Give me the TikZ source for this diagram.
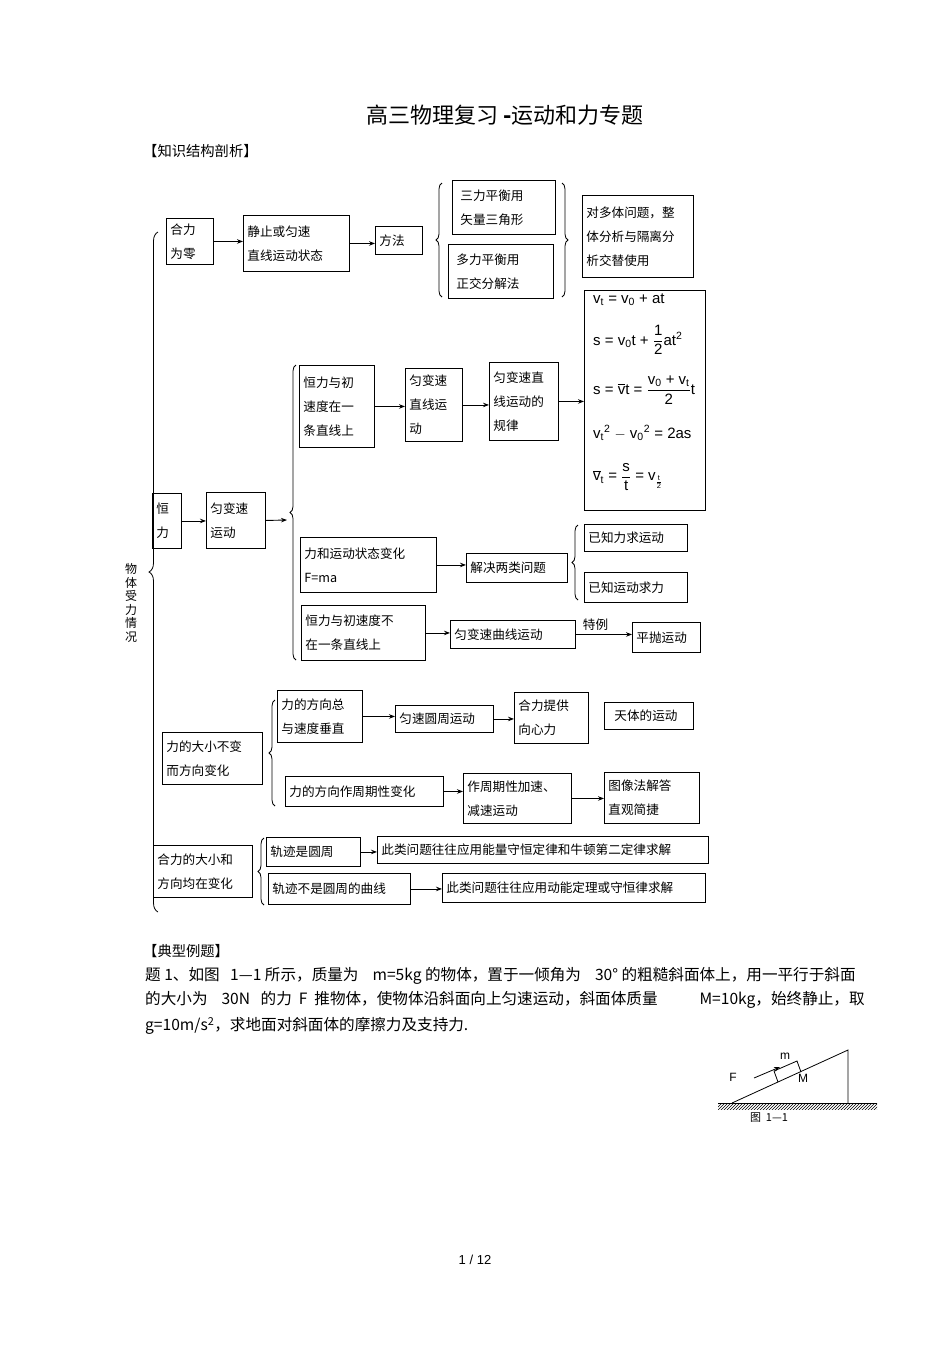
\documentclass[tikz,border=0pt]{standalone}
\usepackage{fontspec}
\usepackage{amsmath}
\setmainfont{Liberation Sans}
\newfontfamily\cjk{Noto Sans CJK SC}
\usetikzlibrary{decorations.pathreplacing,arrows.meta,patterns}
\tikzset{
 box/.style={draw,line width=0.9pt,inner xsep=4pt,inner ysep=2pt,align=left,font=\cjk\fontsize{12.6}{24}\selectfont},
 arr/.style={-{Stealth[length=6pt,width=4.5pt]},line width=0.9pt},
 brc/.style={decorate,decoration={brace,amplitude=6pt},line width=0.8pt},
 fm/.style={anchor=west,inner sep=0pt,font=\fontsize{15}{17}\selectfont},
 txt/.style={anchor=west,inner sep=0pt,font=\cjk\fontsize{14.3}{16}\selectfont},
 ptxt/.style={anchor=west,inner sep=0pt,font=\cjk\fontsize{15.6}{18}\selectfont}
}
\newcommand\bx[6]{\pgfmathsetmacro\bw{#4-#2}\pgfmathsetmacro\bh{#5-#3}\pgfmathsetmacro\tw{#4-#2-8}%
\node[box,anchor=north west,minimum width=\bw pt,minimum height=\bh pt,text width=\tw pt] (#1) at (#2,#3) {#6};}
\begin{document}
\begin{tikzpicture}[x=1pt,y=-1pt]
\useasboundingbox[fill=white] (0,0) rectangle (950,1345);
\node[anchor=center,font=\cjk\fontsize{22}{24}\selectfont] (title) at (505,115) {高三物理复习 \textbf{-}运动和力专题};
\node[txt] (h1) at (143,151) {【知识结构剖析】};
% row 1
\bx{a1}{166}{218}{213}{264}{合力\\为零}
\bx{a2}{243}{215}{349}{271}{静止或匀速\\直线运动状态}
\bx{a3}{375}{226}{422}{254}{方法}
\bx{a4}{452}{180}{555}{234}{\hspace*{4pt}三力平衡用\\\hspace*{4pt}矢量三角形}
\bx{a5}{448}{244}{553}{298}{\hspace*{4pt}多力平衡用\\\hspace*{4pt}正交分解法}
\bx{a6}{582}{195}{693}{277}{对多体问题，整\\体分析与隔离分\\析交替使用}
\draw[arr] (a1.east) -- (a1.east -| a2.west);
\draw[arr] (a2.east) -- (a2.east -| a3.west);
\draw[brc] (442,297) -- (442,183);
\draw[brc] (562,183) -- (562,297);
% main brace
\draw[brc,decoration={amplitude=9pt}] (158,912) -- (158,232);
\node[font=\cjk\fontsize{12}{13.5}\selectfont,align=center,inner sep=0pt] (lab) at (131,603) {物\\体\\受\\力\\情\\况};
% constant force
\bx{b1}{152}{493}{181}{548}{恒\\力}
\bx{b2}{206}{492}{265}{548}{匀变速\\运动}
\draw[arr] (b1.east) -- (b1.east -| b2.west);
\draw[brc] (296,660) -- (296,365);
\coordinate (bt) at (287,520);
\draw[arr] (b2.east) -- (bt);
\bx{c1}{299}{365}{374}{447}{恒力与初\\速度在一\\条直线上}
\bx{c2}{405}{368}{462}{441}{匀变速\\直线运\\动}
\bx{c3}{489}{362}{558}{440}{匀变速直\\线运动的\\规律}
\node[draw,line width=0.9pt,anchor=north west,minimum width=121pt,minimum height=220pt] (fb) at (584,290) {};
\draw[arr] (c1.east) -- (c1.east -| c2.west);
\draw[arr] (c2.east) -- (c2.east -| c3.west);
\draw[arr] (c3.east) -- (c3.east -| fb.west);
\node[fm] (f1) at (593,300) {v\textsubscript{t} = v\textsubscript{0} + at};
\node[fm] (f2) at (593,340) {s = v\textsubscript{0}t + $\dfrac{\text{1}}{\text{2}}$at\textsuperscript{2}};
\node[fm] (f3) at (593,390) {s = $\overline{\text{v}}$t = $\dfrac{\text{v\textsubscript{0} + v\textsubscript{t}}}{\text{2}}$t};
\node[fm] (f4) at (593,433) {v\textsubscript{t}\textsuperscript{2} $-$ v\textsubscript{0}\textsuperscript{2} = 2as};
\node[fm] (f5) at (593,477) {$\overline{\text{v}}$\textsubscript{t} = $\dfrac{\text{s}}{\text{t}}$ = v$_{\frac{\text{t}}{\text{2}}}$};
\bx{d1}{300}{537}{436}{592}{力和运动状态变化\\F=ma}
\bx{d2}{466}{553}{567}{582}{解决两类问题}
\bx{d3}{584}{524}{687}{551}{已知力求运动}
\bx{d4}{584}{572}{687}{602}{已知运动求力}
\draw[arr] (d1.east) -- (d1.east -| d2.west);
\draw[brc] (578,600) -- (578,525);
\bx{e1}{301}{605}{425}{660}{恒力与初速度不\\在一条直线上}
\bx{e2}{450}{620}{575}{648}{匀变速曲线运动}
\bx{e3}{632}{622}{700}{652}{平抛运动}
\draw[arr] (e1.east) -- (e1.east -| e2.west);
\draw[arr] (e2.east) -- node[above,font=\cjk\fontsize{12.6}{13}\selectfont,pos=0.35] {特例} (e2.east -| e3.west);
% direction changes
\bx{g1}{162}{732}{262}{784}{力的大小不变\\而方向变化}
\draw[brc] (275,806) -- (275,700);
\bx{g2}{277}{690}{362}{742}{力的方向总\\与速度垂直}
\bx{g3}{395}{705}{493}{732}{匀速圆周运动}
\bx{g4}{514}{692}{588}{743}{合力提供\\向心力}
\bx{g5}{604}{702}{693}{729}{\hspace*{6pt}天体的运动}
\draw[arr] (g2.east) -- (g2.east -| g3.west);
\draw[arr] (g3.east) -- (g3.east -| g4.west);
\bx{h2}{285}{776}{443}{806}{力的方向作周期性变化}
\bx{h3}{463}{773}{571}{823}{作周期性加速、\\减速运动}
\bx{h4}{604}{772}{699}{823}{图像法解答\\直观简捷}
\draw[arr] (h2.east) -- (h2.east -| h3.west);
\draw[arr] (h3.east) -- (h3.east -| h4.west);
% both change
\bx{k1}{153}{845}{252}{897}{合力的大小和\\方向均在变化}
\draw[brc] (264,905) -- (264,838);
\bx{k2}{266}{837}{360}{866}{轨迹是圆周}
\bx{k3}{377}{836}{708}{863}{此类问题往往应用能量守恒定律和牛顿第二定律求解}
\bx{k4}{268}{873}{410}{904}{轨迹不是圆周的曲线}
\bx{k5}{442}{873}{705}{902}{此类问题往往应用动能定理或守恒律求解}
\draw[arr] (k2.east) -- (k2.east -| k3.west);
\draw[arr] (k4.east) -- (k4.east -| k5.west);
% example
\node[txt] (h2t) at (143,951) {【典型例题】};
\node[ptxt] (p1) at (145,976) {题 1、如图\ \ \ 1—1 所示，质量为\ \ \ \ m=5kg 的物体，置于一倾角为\ \ \ \ 30°\ 的粗糙斜面体上，用一平行于斜面};
\node[ptxt] (p2) at (145,1000) {的大小为\ \ \ \ 30N\ \ \ 的力\ \ F\ \ 推物体，使物体沿斜面向上匀速运动，斜面体质量\ \ \ \ \ \ \ \ \ \ \ \ M=10kg，始终静止，取};
\node[ptxt] (p3) at (145,1026) {g=10m/s\textsuperscript{2}，求地面对斜面体的摩擦力及支持力.};
% figure
\fill[pattern=north east lines] (718,1103) rectangle (877,1109);
\draw[line width=1pt] (718,1103) -- (877,1103);
\draw[line width=0.8pt] (732,1103) -- (848,1050) -- (848,1103);
\draw[line width=0.8pt] (778,1082) -- (774,1071) -- (797,1061) -- (801,1072);
\coordinate (fa) at (754,1078);
\coordinate (fb2) at (780,1067);
\draw[arr,line width=0.8pt] (fa) -- (fb2);
\node[font=\fontsize{12}{13}\selectfont] (lF) at (733,1077) {F};
\node[font=\fontsize{12}{13}\selectfont] (lm) at (785,1056) {m};
\node[font=\fontsize{12}{13}\selectfont] (lM) at (803,1078) {M};
\node[font=\cjk\fontsize{11}{12}\selectfont] (cap) at (769,1118) {图\ \ 1—1};
\node[font=\fontsize{13}{14}\selectfont] (pg) at (475,1260) {1 / 12};
\end{tikzpicture}
\end{document}
